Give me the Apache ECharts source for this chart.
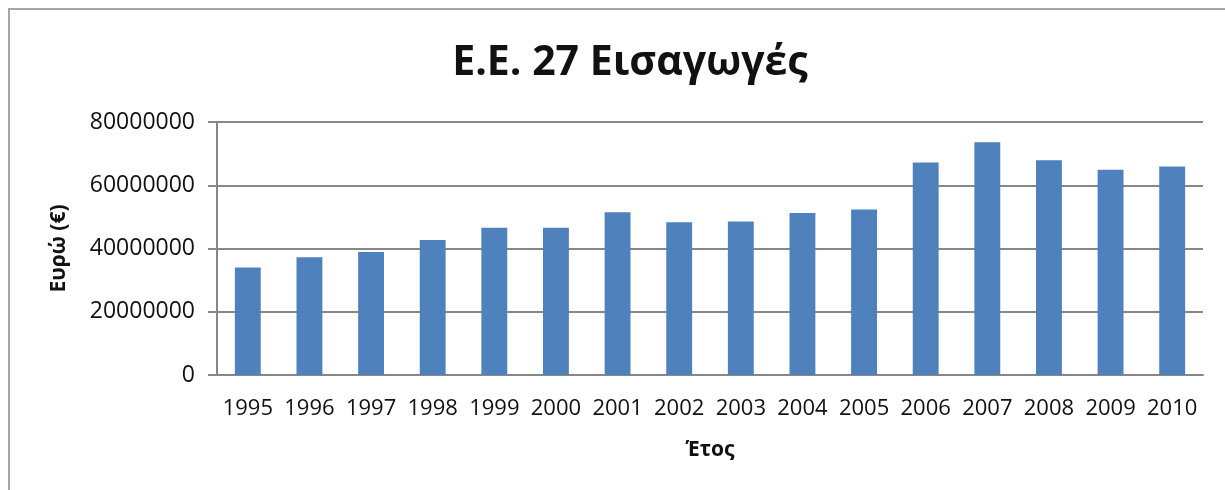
<!DOCTYPE html>
<html>
<head>
<meta charset="utf-8">
<script src="https://cdn.jsdelivr.net/npm/echarts@6/dist/echarts.min.js"></script>
<style>
html,body{margin:0;padding:0;background:#fff;}
#frame{position:absolute;left:8px;top:8px;width:1230px;height:500px;border:2px solid #a6a6a6;box-sizing:border-box;}
#chart{position:absolute;left:0;top:0;width:1225px;height:490px;}
</style>
</head>
<body>
<div id="frame"></div>
<div id="chart"></div>
<script>
var years=['1995','1996','1997','1998','1999','2000','2001','2002','2003','2004','2005','2006','2007','2008','2009','2010'];
var imports=[34000000,37200000,38900000,42700000,46600000,46600000,51500000,48300000,48500000,51200000,52300000,67200000,73600000,67900000,64900000,65900000];
var yTicks=[0,20000000,40000000,60000000,80000000];

var chart=echarts.init(document.getElementById('chart'));
var option={
    animation:false,
    title:{
        text:'Ε.Ε. 27 Εισαγωγές',
        left:625,
        textAlign:'center',
        top:38,
        textStyle:{fontFamily:'Open Sans',fontWeight:'bold',fontSize:41,color:'#111'}
    },
    grid:{left:217,right:22,top:122,bottom:115},
    xAxis:{
        type:'category',
        data:years,
        name:'Έτος',
        nameLocation:'middle',
        nameGap:65,
        nameTextStyle:{fontFamily:'Open Sans',fontWeight:'bold',fontSize:21,color:'#111'},
        axisLine:{lineStyle:{color:'#878787',width:2}},
        axisTick:{show:false},
        axisLabel:{fontFamily:'Open Sans',fontSize:22,color:'#111',margin:23,interval:0}
    },
    yAxis:{
        type:'value',
        min:yTicks[0],
        max:yTicks[yTicks.length-1],
        interval:20000000,
        name:'Ευρώ (€)',
        nameLocation:'middle',
        nameGap:147,
        nameTextStyle:{fontFamily:'Open Sans',fontWeight:'bold',fontSize:21,color:'#111'},
        axisLine:{show:true,lineStyle:{color:'#878787',width:2}},
        axisTick:{show:true,length:9,lineStyle:{color:'#878787',width:2}},
        axisLabel:{fontFamily:'Open Sans',fontSize:23,color:'#111',margin:22,formatter:function(v){return String(v);}},
        splitLine:{lineStyle:{color:'#878787',width:2}}
    },
    series:[{
        type:'bar',
        data:imports,
        barWidth:'42%',
        itemStyle:{color:'#4f81bd'}
    }]
};
chart.setOption(option);
</script>
</body>
</html>
